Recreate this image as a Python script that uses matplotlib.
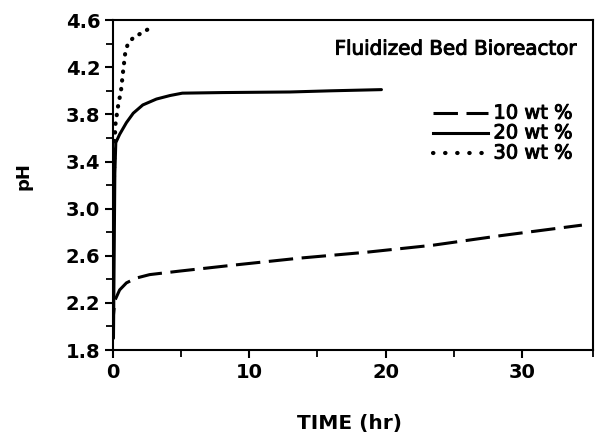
import matplotlib
matplotlib.use("Agg")
import matplotlib.pyplot as plt
import matplotlib.patheffects as pe
from matplotlib.ticker import FixedLocator
from matplotlib.lines import Line2D

# Time (hr) and pH for each sludge loading
t_10 = [0.0, 0.05, 0.15, 0.5, 1.0, 1.7, 2.7, 4.9, 8.8, 13.7, 18.6, 23.5, 28.4, 34.4]
ph_10 = [1.95, 2.10, 2.22, 2.31, 2.37, 2.41, 2.44, 2.47, 2.52, 2.58, 2.63, 2.69, 2.77, 2.86]

t_20 = [0.05, 0.1, 0.15, 0.22, 0.5, 1.0, 1.5, 2.2, 3.2, 4.2, 5.1, 8.0, 13.0, 16.0, 19.7]
ph_20 = [1.90, 2.60, 3.30, 3.56, 3.63, 3.73, 3.81, 3.88, 3.93, 3.96, 3.98, 3.985, 3.99, 4.00, 4.01]

t_30 = [0.08, 0.12, 0.2, 0.37, 0.6, 0.75, 0.9, 1.1, 1.5, 2.1, 2.7]
ph_30 = [3.20, 3.55, 3.72, 3.86, 4.00, 4.16, 4.31, 4.40, 4.45, 4.49, 4.53]

labels = ["10 wt %", "20 wt %", "30 wt %"]
title = "Fluidized Bed Bioreactor"

fig = plt.figure(figsize=(6.0, 4.37), dpi=100)
ax = fig.add_axes([0.188, 0.199, 0.800, 0.755])

lw = 2.2
dash_style = (0, (8, 2.8))
dot_style = (0, (0.1, 2.0))
styles = [
    dict(lw=lw, linestyle=dash_style),
    dict(lw=lw, linestyle="-"),
    dict(lw=3.0, linestyle=dot_style, dash_capstyle="round"),
]

ax.plot(t_10, ph_10, color="black", **styles[0])
ax.plot(t_20, ph_20, color="black", solid_capstyle="round", **styles[1])
ax.plot(t_30, ph_30, color="black", **styles[2])

ax.set_xlim(0, 35.2)
ax.set_ylim(1.8, 4.6)

ax.yaxis.set_major_locator(FixedLocator([1.8, 2.2, 2.6, 3.0, 3.4, 3.8, 4.2, 4.6]))
ax.yaxis.set_minor_locator(FixedLocator([2.0, 2.4, 2.8, 3.2, 3.6, 4.0, 4.4]))
ax.xaxis.set_major_locator(FixedLocator([0, 10, 20, 30]))
ax.xaxis.set_minor_locator(FixedLocator([5, 15, 25, 35.2]))
ax.set_yticklabels(["1.8", "2.2", "2.6", "3.0", "3.4", "3.8", "4.2", "4.6"])
ax.set_xticklabels(["0", "10", "20", "30"])

for s in ax.spines.values():
    s.set_linewidth(1.5)

ax.tick_params(axis="both", which="major", direction="out", length=6, width=1.5,
               labelsize=14, pad=3)
ax.tick_params(axis="both", which="minor", direction="out", length=5, width=1.3)
for lab in ax.get_xticklabels() + ax.get_yticklabels():
    lab.set_fontweight("bold")
    lab.set_family("DejaVu Sans")

fig.text(0.04, 0.597, "pH", rotation=90, ha="center", va="center",
         fontsize=13, fontweight="bold", family="DejaVu Sans")
fig.text(0.583, 0.032, "TIME (hr)", ha="center", va="center",
         fontsize=14.5, fontweight="bold", family="DejaVu Sans")

# Slightly heavier than regular weight for the annotation text
heavy = [pe.withStroke(linewidth=0.7, foreground="black")]

ax.text(0.967, 0.912, title, transform=ax.transAxes, ha="right", va="center",
        fontsize=14.3, family="DejaVu Sans", path_effects=heavy)

# Key: sample line followed by its label, one row per loading
key_styles = [
    styles[0],
    styles[1],
    dict(lw=3.0, linestyle=(0, (0.1, 2.8)), dash_capstyle="round"),
]
key_rows = [0.718, 0.658, 0.597]
for style, label, y in zip(key_styles, labels, key_rows):
    ax.add_line(Line2D([0.667, 0.781], [y, y], transform=ax.transAxes,
                       color="black", **style))
    ax.text(0.793, y, label, transform=ax.transAxes, ha="left", va="center",
            fontsize=14, family="DejaVu Sans", path_effects=heavy)

fig.savefig("out.png", dpi=100)
